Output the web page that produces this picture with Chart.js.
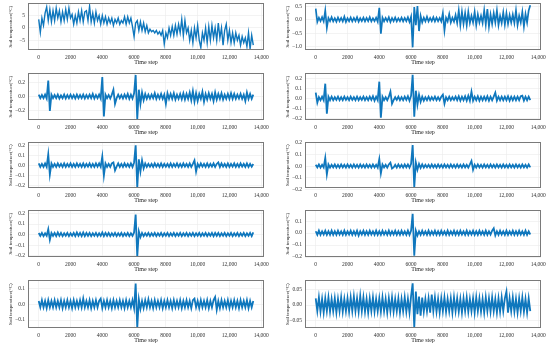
<!DOCTYPE html>
<html>
<head>
<meta charset="utf-8">
<script src="https://cdn.jsdelivr.net/npm/chart.js@4.4.1/dist/chart.umd.min.js"></script>
<style>
  body { margin: 0; background: #fff; width: 550px; height: 345px; overflow: hidden; position: relative; }
  canvas { position: absolute; }
</style>
</head>
<body>
<script>
// time steps sampled every 100
const steps = [];
for (let s = 0; s <= 13500; s += 100) steps.push(s);
const xTicks = [0, 2000, 4000, 6000, 8000, 10000, 12000, 14000];

// values, one per 100 steps (136 each)
const series1 = [
  3.5, -1.8, 4, 1, 6, 8.5, 3, 7.5, 2.5, 7,
  3, 8, 4, 7, 2.5, 6.5, 3, 7.5, 3.5, 8,
  4, 5.5, 1.5, 5, 2, 6.5, 3, 7, 2.5, 6.5,
  7, 3, 8.8, 2.5, 6, 2, 6.5, 3, 5, 1.5,
  5, 2, 4.5, 1.5, 4, 2, 4, 1, 3.5, 2,
  4, 1.5, 3, 2, 4.5, 1.5, 4.5, 2, 4, 0.5,
  -3.5, 2, 3, -1, 2.5, -1, 2, -1.5, 1, -2,
  -0.5, -1.5, -1, -2, -1, -2.5, -1.5, -3, -1, -6.5,
  -2, -4, 0, -3, 0.5, -3, 1, -2.5, 1.5, -2,
  3.5, -3, 3, -2, 0, -5, -1, -6, 0, -4,
  1, -5, -8, -2, -5, 0, -6, 0.5, -5, 1,
  -4, 0, -5, 2, -4, 0, -7, -1, 1.5, -5,
  -1, -6, -2, -6, -2, -5, -3, -7, -3.5, -6,
  -4, -7.5, -2, -8.5, -3, -7
];
const series2 = [
  0.42, -0.08, 0.08, -0.05, 0.1, -0.06, 0.35, -0.3, 0.07, -0.05,
  0.1, -0.06, 0.06, -0.07, 0.09, -0.05, 0.07, -0.06, 0.12, -0.08,
  0.06, -0.05, 0.09, -0.06, 0.07, -0.05, 0.1, -0.07, 0.06, -0.05,
  0.08, -0.06, 0.07, -0.05, 0.1, -0.06, 0.06, -0.05, 0.08, -0.07,
  0.45, -0.52, 0.08, -0.06, 0.07, -0.05, 0.1, -0.08, 0.07, -0.05,
  0.09, -0.06, 0.06, -0.05, 0.08, -0.06, 0.07, -0.05, 0.1, -0.08,
  0.12, -1.03, 0.48, -0.2, 0.52, -0.42, 0.15, -0.1, 0.08, -0.06,
  0.12, -0.06, 0.07, -0.05, 0.1, -0.06, 0.08, -0.05, 0.07, -0.06,
  0.25, -0.4, 0.08, -0.06, 0.22, -0.1, 0.08, -0.07, 0.18, -0.12,
  0.35, -0.2, 0.3, -0.15, 0.25, -0.2, 0.3, -0.12, 0.15, -0.1,
  0.3, -0.2, 0.2, -0.1, 0.15, -0.12, 0.35, -0.18, 0.4, -0.25,
  0.2, -0.15, 0.25, -0.1, 0.35, -0.2, 0.15, -0.12, 0.28, -0.18,
  0.25, -0.15, 0.18, -0.1, 0.2, -0.12, 0.35, -0.2, 0.15, -0.1,
  0.3, -0.25, 0.22, -0.1, 0.35, 0.55
];
const series3 = [
  0.03, -0.02, 0.025, -0.02, 0.03, -0.025, 0.23, -0.2, 0.03, -0.02,
  0.025, -0.02, 0.03, -0.025, 0.02, -0.02, 0.03, -0.025, 0.025, -0.02,
  0.03, -0.02, 0.025, -0.025, 0.03, -0.02, 0.025, -0.02, 0.03, -0.025,
  0.025, -0.02, 0.03, -0.02, 0.04, -0.025, 0.025, -0.02, 0.03, -0.025,
  0.28, -0.28, 0.03, -0.02, 0.025, -0.025, 0.03, 0.1, -0.1, -0.02,
  0.03, -0.02, 0.025, -0.025, 0.03, -0.02, 0.04, -0.03, 0.03, -0.025,
  0.05, 0.31, -0.32, 0.1, -0.1, 0.06, -0.05, 0.04, -0.03, 0.03,
  -0.025, 0.03, -0.02, 0.05, -0.03, 0.03, -0.025, 0.04, -0.03, 0.03,
  -0.1, 0.05, -0.03, 0.04, -0.03, 0.05, -0.04, 0.03, -0.03, 0.04,
  -0.035, 0.05, -0.04, 0.04, -0.03, 0.06, -0.05, 0.08, -0.07, 0.05,
  -0.06, 0.04, -0.03, 0.07, -0.07, 0.04, -0.04, 0.05, -0.03, 0.04,
  -0.06, 0.06, -0.04, 0.04, -0.03, 0.05, -0.04, 0.03, -0.03, 0.04,
  -0.03, 0.05, -0.03, 0.04, -0.03, 0.03, -0.025, 0.04, -0.03, 0.03,
  -0.06, 0.06, -0.03, 0.04, -0.03, 0.03
];
const series4 = [
  0.06, -0.04, 0.015, -0.015, 0.02, -0.015, 0.15, -0.15, 0.02, -0.015,
  0.02, -0.015, 0.015, -0.012, 0.02, -0.015, 0.015, -0.015, 0.02, -0.012,
  0.015, -0.015, 0.02, -0.012, 0.015, -0.015, 0.02, -0.015, 0.015, -0.012,
  0.02, -0.015, 0.015, -0.015, 0.02, -0.012, 0.025, -0.02, 0.02, -0.015,
  0.17, -0.19, 0.02, -0.015, 0.015, -0.015, 0.02, 0.07, -0.05, -0.015,
  0.015, -0.012, 0.02, -0.015, 0.015, -0.015, 0.02, -0.012, 0.025, -0.02,
  0.03, 0.24, -0.18, 0.08, -0.06, 0.04, -0.03, 0.02, -0.02, 0.015,
  -0.015, 0.02, -0.015, 0.015, -0.012, 0.02, -0.015, 0.015, -0.015, 0.02,
  0.04, -0.05, 0.015, -0.015, 0.02, -0.015, 0.015, -0.012, 0.02, -0.015,
  0.025, -0.02, 0.02, -0.015, 0.025, -0.02, 0.03, -0.02, 0.07, -0.02,
  0.02, -0.015, 0.025, -0.02, 0.02, -0.015, 0.02, -0.015, 0.025, -0.02,
  0.02, -0.015, 0.02, 0.06, -0.02, 0.02, -0.015, 0.02, -0.015, 0.02,
  -0.015, 0.025, -0.02, 0.02, -0.015, 0.02, -0.015, 0.02, -0.015, 0.025,
  0.03, -0.02, 0.02, -0.015, 0.02, -0.015
];
const series5 = [
  0.02, -0.015, 0.015, -0.015, 0.02, -0.015, 0.11, -0.09, 0.02, -0.015,
  0.015, -0.015, 0.02, -0.012, 0.015, -0.015, 0.02, -0.015, 0.015, -0.012,
  0.02, -0.015, 0.015, -0.015, 0.02, -0.012, 0.015, -0.015, 0.02, -0.015,
  0.015, -0.012, 0.02, -0.015, 0.015, -0.015, 0.02, -0.012, 0.02, -0.015,
  0.09, -0.1, 0.02, -0.015, 0.015, -0.015, 0.02, 0.03, -0.05, -0.012,
  0.02, -0.015, 0.015, -0.015, 0.02, -0.012, 0.015, -0.015, 0.02, -0.015,
  0.03, 0.2, -0.22, 0.06, -0.06, 0.05, -0.03, 0.02, -0.015, 0.015,
  -0.012, 0.015, -0.015, 0.02, -0.012, 0.015, -0.015, 0.02, -0.015, 0.015,
  -0.012, 0.015, -0.015, 0.02, -0.015, 0.015, -0.012, 0.02, -0.015, 0.015,
  -0.015, 0.02, -0.012, 0.015, -0.015, 0.02, -0.015, 0.015, 0.05, -0.06,
  0.015, -0.015, 0.02, -0.012, 0.015, -0.015, 0.02, -0.015, 0.015, -0.012,
  0.02, -0.015, 0.015, 0.03, -0.015, 0.02, -0.012, 0.015, -0.015, 0.02,
  -0.015, 0.015, -0.012, 0.02, -0.015, 0.015, -0.015, 0.02, -0.012, 0.015,
  -0.015, 0.02, -0.015, 0.015, -0.012, 0.015
];
const series6 = [
  0.012, -0.01, 0.015, -0.012, 0.012, -0.01, 0.07, -0.07, 0.015, -0.012,
  0.012, -0.01, 0.015, -0.012, 0.012, -0.012, 0.015, -0.01, 0.012, -0.012,
  0.015, -0.01, 0.012, -0.012, 0.015, -0.01, 0.012, -0.012, 0.015, -0.01,
  0.012, -0.012, 0.015, -0.01, 0.012, -0.012, 0.015, -0.01, 0.012, -0.012,
  0.06, -0.06, 0.015, -0.01, 0.012, -0.012, 0.015, 0.03, -0.02, -0.01,
  0.012, -0.012, 0.015, -0.01, 0.012, -0.012, 0.015, -0.01, 0.015, -0.012,
  0.02, 0.18, -0.18, 0.03, -0.03, 0.02, -0.015, 0.015, -0.012, 0.012,
  -0.01, 0.012, -0.012, 0.015, -0.01, 0.012, -0.012, 0.015, -0.01, 0.012,
  -0.012, 0.015, -0.01, 0.012, -0.012, 0.015, -0.01, 0.012, -0.012, 0.015,
  -0.01, 0.012, -0.012, 0.015, -0.01, 0.012, -0.012, 0.015, 0.045, -0.03,
  0.012, -0.012, 0.015, -0.01, 0.012, -0.012, 0.015, -0.01, 0.012, -0.012,
  0.015, -0.01, 0.012, -0.012, 0.015, -0.01, 0.012, -0.012, 0.015, -0.01,
  0.012, -0.012, 0.015, -0.01, 0.012, -0.012, 0.015, -0.01, 0.012, -0.012,
  0.015, -0.01, 0.012, -0.012, 0.015, -0.01
];
const series7 = [
  0.015, -0.012, 0.015, -0.015, 0.012, -0.012, 0.05, -0.05, 0.015, -0.012,
  0.015, -0.015, 0.02, -0.012, 0.015, -0.015, 0.012, -0.012, 0.015, -0.015,
  0.012, -0.012, 0.015, -0.015, 0.02, -0.012, 0.015, -0.015, 0.02, -0.015,
  0.015, -0.012, 0.015, -0.015, 0.012, -0.012, 0.015, -0.015, 0.012, -0.012,
  0.02, -0.015, 0.015, -0.012, 0.015, -0.015, 0.012, -0.012, 0.015, -0.015,
  0.012, -0.012, 0.015, -0.015, 0.012, -0.012, 0.015, -0.015, 0.012, -0.012,
  0.02, 0.19, -0.21, 0.03, -0.025, 0.015, -0.015, 0.012, -0.012, 0.015,
  -0.015, 0.012, -0.012, 0.015, -0.015, 0.012, -0.012, 0.015, -0.015, 0.012,
  -0.012, 0.015, -0.015, 0.012, -0.012, 0.015, -0.015, 0.012, -0.012, 0.015,
  -0.015, 0.012, -0.012, 0.015, -0.015, 0.012, -0.012, 0.015, -0.015, 0.012,
  -0.012, 0.015, -0.015, 0.012, -0.012, 0.015, -0.015, 0.012, -0.012, 0.015,
  -0.015, 0.015, -0.012, 0.015, -0.015, 0.012, -0.012, 0.015, -0.015, 0.012,
  -0.012, 0.015, -0.015, 0.012, -0.012, 0.015, -0.015, 0.012, -0.012, 0.015,
  -0.015, 0.012, -0.012, 0.015, -0.015, 0.02
];
const series8 = [
  0.015, -0.015, 0.02, -0.015, 0.015, -0.012, 0.02, -0.015, 0.015, -0.015,
  0.02, -0.015, 0.015, -0.015, 0.02, -0.012, 0.015, -0.015, 0.02, -0.015,
  0.015, -0.012, 0.02, -0.015, 0.015, -0.015, 0.02, -0.02, 0.015, -0.012,
  0.02, -0.015, 0.015, -0.015, 0.02, -0.012, 0.015, -0.015, 0.02, -0.015,
  0.015, -0.015, 0.02, -0.012, 0.015, -0.015, 0.02, -0.015, 0.015, -0.012,
  0.02, -0.015, 0.015, -0.015, 0.02, -0.012, 0.015, -0.015, 0.02, -0.015,
  0.02, 0.16, -0.19, 0.02, -0.02, 0.015, -0.015, 0.02, -0.012, 0.015,
  -0.015, 0.02, -0.015, 0.015, -0.012, 0.02, -0.015, 0.015, -0.015, 0.02,
  -0.012, 0.015, -0.015, 0.02, -0.015, 0.015, -0.012, 0.02, -0.015, 0.015,
  -0.015, 0.02, -0.012, 0.015, -0.015, 0.02, -0.015, 0.015, -0.012, 0.02,
  -0.015, 0.015, -0.015, 0.02, -0.012, 0.015, -0.015, 0.02, -0.015, 0.015,
  -0.012, 0.02, 0.04, -0.02, 0.015, -0.015, 0.02, -0.012, 0.015, -0.015,
  0.02, -0.015, 0.015, -0.012, 0.02, -0.015, 0.015, -0.015, 0.02, -0.012,
  0.015, -0.015, 0.02, -0.015, 0.015, -0.012
];
const series9 = [
  0.02, -0.02, 0.025, -0.02, 0.02, -0.025, 0.025, -0.02, 0.02, -0.02,
  0.025, -0.02, 0.02, -0.02, 0.025, -0.025, 0.02, -0.02, 0.025, -0.02,
  0.02, -0.025, 0.025, -0.02, 0.02, -0.02, 0.025, -0.02, 0.035, -0.02,
  0.02, -0.02, 0.025, -0.025, 0.02, -0.02, 0.025, -0.02, 0.02, 0.035,
  -0.025, 0.02, -0.02, 0.025, -0.02, 0.02, -0.025, 0.025, -0.02, 0.02,
  -0.02, 0.025, -0.02, 0.02, -0.025, 0.025, -0.02, 0.02, -0.02, 0.025,
  -0.025, 0.13, -0.15, 0.03, -0.03, 0.02, -0.025, 0.025, -0.02, 0.03,
  -0.02, 0.02, -0.025, 0.025, -0.02, 0.02, -0.02, 0.025, -0.025, 0.02,
  -0.02, 0.025, -0.02, 0.02, -0.025, 0.025, -0.02, 0.02, -0.02, 0.025,
  -0.025, 0.02, -0.02, 0.025, -0.02, 0.02, -0.025, 0.025, 0.035, -0.02,
  0.02, -0.025, 0.025, -0.02, 0.02, -0.02, 0.025, -0.025, 0.02, -0.02,
  0.025, 0.045, -0.035, 0.02, -0.025, 0.025, -0.02, 0.02, -0.02, 0.025,
  -0.025, 0.02, -0.02, 0.025, -0.02, 0.02, -0.025, 0.025, -0.02, 0.02,
  -0.02, 0.025, -0.025, 0.02, -0.02, 0.02
];
const series10 = [
  0.022, -0.02, 0.025, -0.022, 0.02, -0.025, 0.022, -0.02, 0.025, -0.022,
  0.02, -0.02, 0.022, -0.025, 0.02, -0.02, 0.025, -0.022, 0.02, -0.02,
  0.022, -0.022, 0.025, -0.02, 0.028, -0.02, 0.022, -0.022, 0.03, -0.02,
  0.025, -0.022, 0.02, -0.025, 0.022, -0.02, 0.025, -0.022, 0.02, -0.02,
  0.022, -0.022, 0.025, -0.02, 0.02, -0.025, 0.022, -0.02, 0.025, -0.022,
  0.02, -0.02, 0.022, -0.025, 0.02, -0.02, 0.025, -0.022, 0.02, -0.025,
  0.03, 0.072, -0.075, 0.045, -0.03, 0.028, -0.035, 0.025, -0.022, 0.02,
  -0.02, 0.022, -0.025, 0.035, -0.02, 0.025, -0.022, 0.02, -0.025, 0.022,
  -0.02, 0.025, -0.022, 0.02, -0.02, 0.022, -0.025, 0.025, -0.02, 0.022,
  -0.022, 0.02, -0.025, 0.022, -0.02, 0.025, -0.022, 0.02, -0.02, 0.022,
  -0.025, 0.025, -0.02, 0.022, -0.022, 0.02, -0.025, 0.025, -0.02, 0.022,
  -0.022, 0.025, -0.02, 0.02, -0.025, 0.022, -0.022, 0.025, -0.02, 0.022,
  0.045, -0.025, 0.022, -0.02, 0.025, -0.022, 0.02, -0.025, 0.022, -0.02,
  0.025, -0.022, 0.02, -0.025, 0.022, -0.02
];

// y tick labels per panel
const yTicks1 = [-5, 0, 5];
const yTicks2 = [-1.0, -0.5, 0.0, 0.5];
const yTicks3 = [-0.2, 0.0, 0.2];
const yTicks4 = [-0.2, -0.1, 0.0, 0.1, 0.2];
const yTicks8 = [-0.2, -0.1, 0.0, 0.1];
const yTicks9 = [-0.1, 0.0, 0.1];
const yTicks10 = [-0.05, 0.0, 0.05];

const panels = [
  { data: series1,  min: -8.95, max: 10,    ticks: yTicks1,  dec: 0, lw: 1.4 },
  { data: series2,  min: -1.13, max: 0.62,  ticks: yTicks2,  dec: 1, lw: 1.7 },
  { data: series3,  min: -0.33, max: 0.333, ticks: yTicks3,  dec: 1, lw: 1.8 },
  { data: series4,  min: -0.213, max: 0.254, ticks: yTicks4, dec: 1, lw: 1.8 },
  { data: series5,  min: -0.224, max: 0.23, ticks: yTicks4,  dec: 1, lw: 1.8 },
  { data: series6,  min: -0.185, max: 0.203, ticks: yTicks4, dec: 1, lw: 1.8 },
  { data: series7,  min: -0.213, max: 0.23, ticks: yTicks4,  dec: 1, lw: 1.8 },
  { data: series8,  min: -0.2,  max: 0.19,  ticks: yTicks8,  dec: 1, lw: 1.8 },
  { data: series9,  min: -0.15, max: 0.15,  ticks: yTicks9,  dec: 1, lw: 1.8 },
  { data: series10, min: -0.076, max: 0.082, ticks: yTicks10, dec: 2, lw: 1.8 }
];

const colLeft = [28, 305];
const plotW = 236;
const rowTop = [2, 72, 141, 209, 279];
const rowBottom = [50, 120, 188, 257, 328];

const serif = "'Liberation Serif', 'DejaVu Serif', serif";
const lineColor = '#0f77bd';

const framePlugin = {
  id: 'frame',
  afterDatasetsDraw(chart) {
    const a = chart.chartArea, ctx = chart.ctx;
    ctx.save();
    ctx.strokeStyle = '#7a7a7a';
    ctx.lineWidth = 1;
    ctx.strokeRect(Math.round(a.left) + 0.5, Math.round(a.top) + 0.5,
      Math.round(a.right - a.left) - 1, Math.round(a.bottom - a.top) - 1);
    ctx.restore();
  }
};

function fmtTick(v, dec) {
  const s = Math.abs(v).toFixed(dec);
  return v < -1e-9 ? '\u2212' + s : s;
}
function fmtStep(v) {
  return v >= 10000 ? v.toLocaleString('en-US') : String(v);
}

panels.forEach((p, i) => {
  const col = i % 2, row = Math.floor(i / 2);
  const plotH = rowBottom[row] - rowTop[row];
  const cv = document.createElement('canvas');
  cv.width = plotW + 28 + 10;
  cv.height = plotH + 5 + 16;
  cv.style.left = (colLeft[col] - 28) + 'px';
  cv.style.top = (rowTop[row] - 5) + 'px';
  document.body.appendChild(cv);

  new Chart(cv, {
    type: 'line',
    data: {
      datasets: [{
        data: p.data.map((v, k) => ({ x: steps[k], y: v })),
        borderColor: lineColor,
        borderWidth: p.lw,
        borderJoinStyle: 'miter',
        pointRadius: 0,
        tension: 0,
        fill: false
      }]
    },
    options: {
      responsive: false,
      animation: false,
      events: [],
      layout: { padding: { left: 8, top: 5, right: 10, bottom: 0 } },
      plugins: { legend: { display: false }, tooltip: { enabled: false } },
      scales: {
        x: {
          type: 'linear',
          min: -675, max: 14175,
          afterBuildTicks: s => { s.ticks = xTicks.map(v => ({ value: v })); },
          afterFit: s => { s.height = 16; },
          grid: { color: '#ebebeb', lineWidth: 0.6, drawTicks: false },
          border: { display: false },
          ticks: {
            autoSkip: false, maxRotation: 0, padding: 4,
            color: '#333', font: { family: serif, size: 5.5 },
            callback: v => fmtStep(v)
          },
          title: {
            display: true, text: 'Time step', color: '#222',
            padding: 0, font: { family: serif, size: 6 }
          }
        },
        y: {
          min: p.min, max: p.max,
          afterBuildTicks: s => { s.ticks = p.ticks.map(v => ({ value: v })); },
          afterFit: s => { s.width = 20; },
          grid: { color: '#ebebeb', lineWidth: 0.6, drawTicks: false },
          border: { display: false },
          ticks: {
            padding: 3, color: '#333', font: { family: serif, size: 5.5 },
            callback: v => fmtTick(v, p.dec)
          },
          title: {
            display: true, text: 'Soil temperature(°C)', color: '#222',
            padding: 0, font: { family: serif, size: 5 }
          }
        }
      }
    },
    plugins: [framePlugin]
  });
});
</script>
</body>
</html>
